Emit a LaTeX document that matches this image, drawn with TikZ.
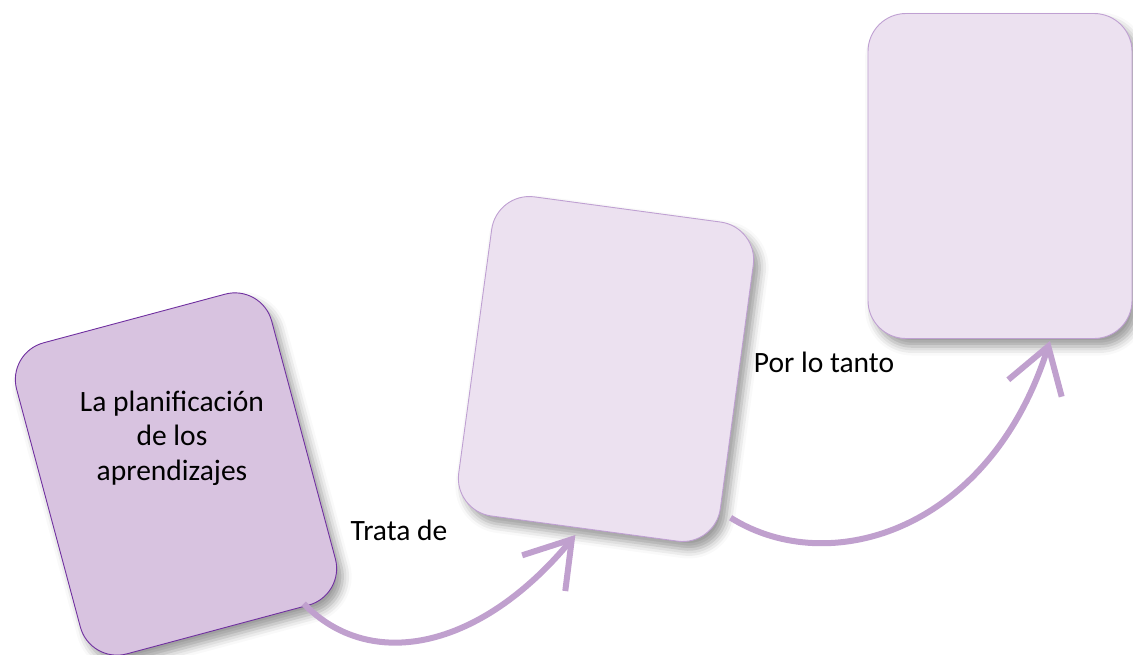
\documentclass[tikz,border=0pt]{standalone}
\usepackage{fontspec}
\setmainfont{Carlito}
\usetikzlibrary{calc,arrows.meta,shadows.blur}
\definecolor{violetfonce}{HTML}{7030A0}
\definecolor{mauve}{HTML}{D8C3E0}
\definecolor{mauveclair}{HTML}{ECE1F0}
\definecolor{bordclair}{HTML}{BFA0D2}
\definecolor{lilas}{HTML}{C0A0CE}
\begin{document}
\begin{tikzpicture}[x=1pt,y=-1pt]
        \tikzstyle{carte}=[rectangle,rounded corners=38pt,minimum width=264pt,minimum height=322pt,inner sep=0pt,line width=0.9pt,blur shadow={shadow xshift=6pt,shadow yshift=-8pt,shadow blur radius=9pt,shadow opacity=40}]
        \tikzstyle{fleche}=[line width=6pt,draw=lilas,-{Straight Barb[length=44pt,width=56pt,line cap=butt]}]
        \tikzstyle{texte}=[font=\fontsize{29.5}{34.5}\selectfont,align=center]
        \useasboundingbox (0,0) rectangle (1133,654);
        \node[carte,fill=mauve,draw=violetfonce,rotate=15] (1) at (176,474) {};
        \node[carte,fill=mauveclair,draw=bordclair,rotate=-7.7] (2) at (606,369) {};
        \node[carte,fill=mauveclair,draw=bordclair,minimum height=325pt] (3) at (1000,176) {};
        \node[texte] (4) at (172,438) {La planificación\\de los\\aprendizajes};
        \node[texte] (5) at (399,530) {Trata de};
        \node[texte] (6) at (824,362) {Por lo tanto};
        \coordinate (a) at ($(1.south east)+(-42,8)$);
        \coordinate (b) at ($(2.south)+(-9,6)$);
        \coordinate (c) at ($(2.south east)+(15,-29)$);
        \coordinate (d) at ($(3.south)+(50,2)$);
        \draw[fleche] (a) .. controls (370,672) and (480,650) .. (b);
        \draw[fleche] (c) .. controls (830,580) and (990,530) .. (d);
    \end{tikzpicture}
\end{document}
